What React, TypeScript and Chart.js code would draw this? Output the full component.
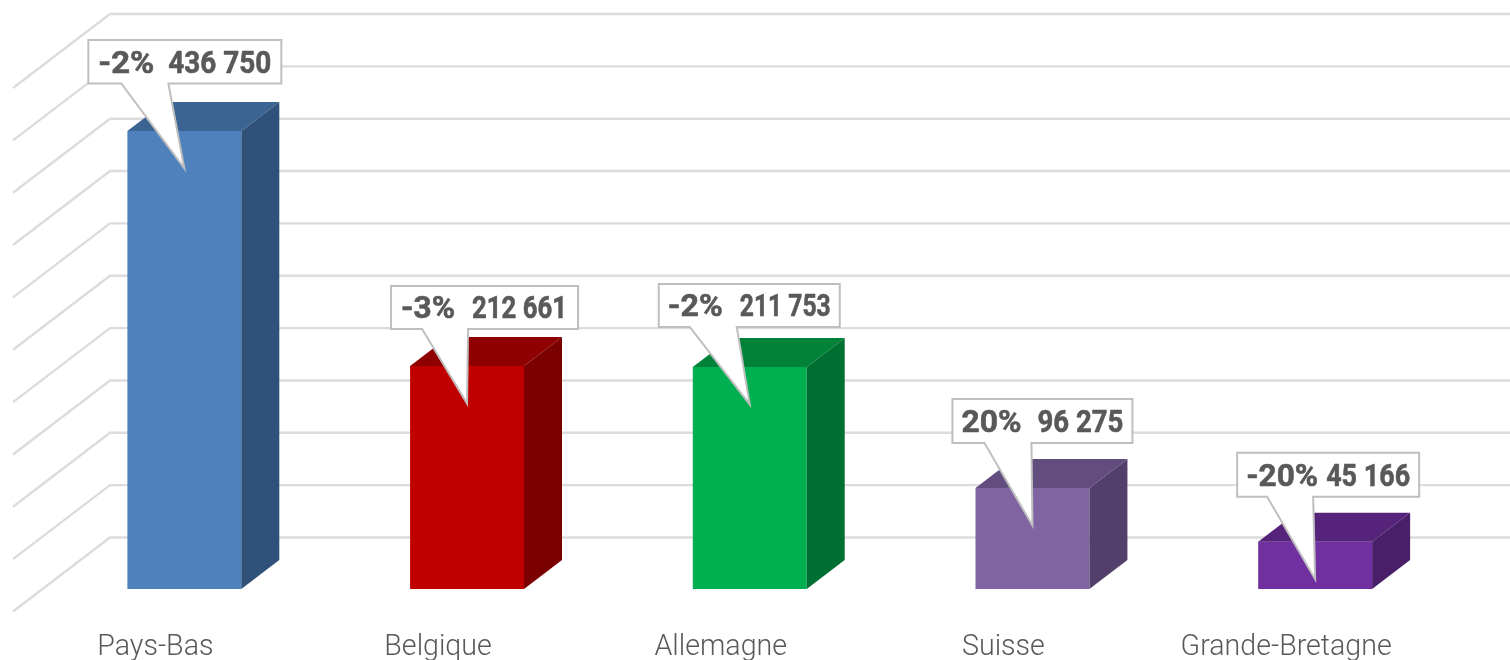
import React, { useEffect, useRef } from "react";
import { Chart, registerables } from "chart.js";

Chart.register(...registerables);

const categories = ["Pays-Bas", "Belgique", "Allemagne", "Suisse", "Grande-Bretagne"];
const values = [436750, 212661, 211753, 96275, 45166];
const changes = ["-2%", "-3%", "-2%", "20%", "-20%"];
const gridValues = [50000, 100000, 150000, 200000, 250000, 300000, 350000, 400000, 450000, 500000, 550000];

const frontColors = ["#4F81BD", "#C00000", "#00B050", "#8064A2", "#7030A0"];
const topColors = ["#3C6492", "#8F0000", "#008238", "#634C7E", "#55247A"];
const sideColors = ["#30527A", "#7B0000", "#006F32", "#523F6B", "#481F68"];

// Callout box edges and tail roots, relative to the bar's centre and top.
const calloutLeft = [-96, -76, -91, -80, -78];
const calloutRight = [97, 111, 90, 100, 104];
const calloutTop = [-91, -80, -83, -89, -89];
const calloutBottom = [-47.5, -37, -40, -45, -45];
const tailLeft = [-63, -45, -60, -48, -48];
const tailRight = [-16, 1, -13, -1, -2];
// Text runs inside each callout, relative to the box's left edge.
const changeOffset = [10, 10, 9, 9, 9];
const changeWidth = [56, 54, 55, 60, 72];
const valueOffset = [80, 81, 81, 85, 89];
const valueWidth = [103, 95, 91, 86, 84];

const DEPTH_X = 38;
const DEPTH_Y = -29;
const TIP_DROP = 37.5;
const GREY = "#595959";

const formatValue = (v: number) => String(v).replace(/\B(?=(\d{3})+$)/g, " ");

const gridPlugin = {
  id: "wallGrid",
  beforeDatasetsDraw(chart: any) {
    const { ctx, width } = chart;
    const s = chart.scales.yGrid;
    ctx.save();
    ctx.strokeStyle = "#DCDCDC";
    ctx.lineWidth = 2.4;
    for (const v of gridValues) {
      const y = s.getPixelForValue(v);
      ctx.beginPath();
      ctx.moveTo(13, y + 74);
      ctx.lineTo(110, y);
      ctx.lineTo(width, y);
      ctx.stroke();
    }
    ctx.restore();
  },
};

const solidPlugin = {
  id: "solidFaces",
  afterDatasetsDraw(chart: any) {
    const { ctx } = chart;
    const meta = chart.getDatasetMeta(0);
    ctx.save();
    meta.data.forEach((bar: any, i: number) => {
      const half = bar.width / 2;
      const l = bar.x - half;
      const r = bar.x + half;
      const t = bar.y;
      const b = bar.base;
      ctx.fillStyle = topColors[i];
      ctx.beginPath();
      ctx.moveTo(l, t);
      ctx.lineTo(l + DEPTH_X, t + DEPTH_Y);
      ctx.lineTo(r + DEPTH_X, t + DEPTH_Y);
      ctx.lineTo(r, t);
      ctx.closePath();
      ctx.fill();
      ctx.fillStyle = sideColors[i];
      ctx.beginPath();
      ctx.moveTo(r, t);
      ctx.lineTo(r + DEPTH_X, t + DEPTH_Y);
      ctx.lineTo(r + DEPTH_X, b + DEPTH_Y);
      ctx.lineTo(r, b);
      ctx.closePath();
      ctx.fill();
    });
    ctx.restore();
  },
};

function drawFitted(ctx: CanvasRenderingContext2D, text: string, x: number, y: number, w: number) {
  const stretch = w / ctx.measureText(text).width;
  ctx.save();
  ctx.translate(x, y);
  ctx.scale(stretch, 1);
  ctx.fillText(text, 0, 0);
  ctx.strokeText(text, 0, 0);
  ctx.restore();
}

const calloutPlugin = {
  id: "callouts",
  afterDraw(chart: any) {
    const { ctx } = chart;
    const meta = chart.getDatasetMeta(0);
    ctx.save();
    meta.data.forEach((bar: any, i: number) => {
      const x = bar.x;
      const y = bar.y;
      const left = x + calloutLeft[i];
      const right = x + calloutRight[i];
      const top = y + calloutTop[i];
      const bottom = y + calloutBottom[i];
      ctx.beginPath();
      ctx.moveTo(left, top);
      ctx.lineTo(right, top);
      ctx.lineTo(right, bottom);
      ctx.lineTo(x + tailRight[i], bottom);
      ctx.lineTo(x, y + TIP_DROP);
      ctx.lineTo(x + tailLeft[i], bottom);
      ctx.lineTo(left, bottom);
      ctx.closePath();
      ctx.fillStyle = "#FFFFFF";
      ctx.fill();
      ctx.strokeStyle = "#BFBFBF";
      ctx.lineWidth = 2;
      ctx.lineJoin = "miter";
      ctx.stroke();

      ctx.fillStyle = GREY;
      ctx.strokeStyle = GREY;
      ctx.lineWidth = 0.6;
      ctx.lineJoin = "round";
      ctx.font = "bold 32px Roboto";
      ctx.textAlign = "left";
      ctx.textBaseline = "middle";
      const ty = (top + bottom) / 2 + 3;
      drawFitted(ctx, changes[i], left + changeOffset[i], ty, changeWidth[i]);
      drawFitted(ctx, formatValue(values[i]), left + valueOffset[i], ty, valueWidth[i]);
    });
    ctx.restore();
  },
};

export default function App() {
  const ref = useRef<HTMLCanvasElement | null>(null);

  useEffect(() => {
    document.body.style.margin = "0";
    const chart = new Chart(ref.current as HTMLCanvasElement, {
      type: "bar",
      data: {
        labels: categories,
        datasets: [
          {
            data: values,
            backgroundColor: frontColors,
            barPercentage: 0.403,
            categoryPercentage: 1,
            yAxisID: "y",
          },
        ],
      },
      plugins: [gridPlugin, solidPlugin, calloutPlugin],
      options: {
        responsive: false,
        animation: false,
        layout: { padding: { left: 43, right: 53.5, top: 12.2, bottom: 0 } },
        plugins: { legend: { display: false }, tooltip: { enabled: false } },
        scales: {
          x: {
            border: { display: false },
            grid: { display: false, drawTicks: false },
            afterFit(scale: any) {
              scale.height = 71;
            },
            ticks: {
              color: GREY,
              font: { family: "Roboto", size: 28.6, weight: "300" },
              labelOffset: -29,
              padding: 42,
              maxRotation: 0,
              autoSkip: false,
            },
          },
          y: { display: false, min: 0, max: 550000 },
          yGrid: { display: false, position: "left", min: 810, max: 551720 },
        },
      },
    } as any);
    return () => chart.destroy();
  }, []);

  return <canvas ref={ref} width={1510} height={660} style={{ display: "block" }} />;
}
